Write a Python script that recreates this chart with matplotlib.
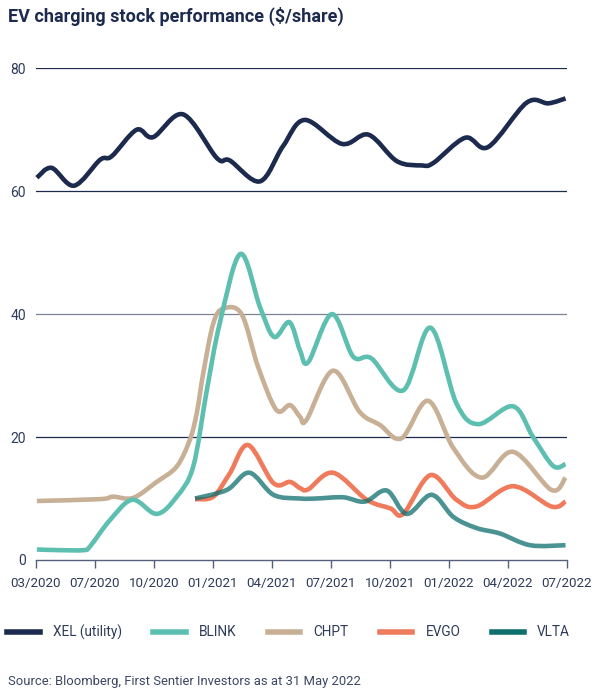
import numpy as np
import matplotlib
matplotlib.use("Agg")
import matplotlib.pyplot as plt
from matplotlib.path import Path
from matplotlib.patches import PathPatch
from matplotlib.lines import Line2D

plt.rcParams['font.family'] = ['Roboto', 'DejaVu Sans']

# x positions are in tick units (0 = 03/2020 ... 9 = 07/2022), values in $/share
tick_labels = ["03/2020", "07/2020", "10/2020", "01/2021", "04/2021",
               "07/2021", "10/2021", "01/2022", "04/2022", "07/2022"]

xel_x = [0.02, 0.27, 0.65, 1.09, 1.29, 1.71, 1.99, 2.50, 3.07, 3.29, 3.80, 4.19,
         4.56, 5.19, 5.64, 6.12, 6.54, 6.74, 7.28, 7.67, 8.32, 8.69, 8.98]
xel_y = [62.2, 63.8, 60.9, 65.1, 65.7, 70.0, 68.8, 72.5, 65.4, 65.0, 61.6, 67.3,
         71.6, 67.7, 69.2, 64.9, 64.2, 64.6, 68.7, 67.2, 74.4, 74.3, 75.1]

blink_x = [0.02, 0.41, 0.81, 0.92, 1.26, 1.64, 2.05, 2.39, 2.67, 2.90, 3.12, 3.47,
           3.80, 4.04, 4.30, 4.48, 4.62, 5.02, 5.38, 5.69, 6.23, 6.69, 7.13, 7.50,
           8.09, 8.43, 8.77, 8.98]
blink_y = [1.7, 1.6, 1.6, 2.2, 6.5, 9.8, 7.5, 10.3, 15.2, 27.6, 38.5, 49.8,
           41.2, 36.3, 38.7, 34.1, 32.2, 40.0, 33.1, 32.8, 27.6, 37.8, 25.5, 22.1,
           25.0, 20.0, 15.3, 15.6]

chpt_x = [0.02, 1.09, 1.31, 1.65, 2.05, 2.39, 2.61, 2.73, 2.84, 3.01, 3.18, 3.49,
          3.77, 4.08, 4.31, 4.48, 4.59, 5.04, 5.49, 5.83, 6.20, 6.65, 7.08, 7.56,
          8.09, 8.74, 8.98]
chpt_y = [9.6, 9.9, 10.3, 10.1, 12.7, 15.2, 19.5, 23.9, 30.4, 38.5, 40.9, 40.0,
          31.4, 24.4, 25.2, 23.3, 22.8, 30.8, 24.1, 22.0, 19.8, 25.9, 18.2, 13.4,
          17.6, 11.4, 13.4]

evgo_x = [2.70, 3.01, 3.29, 3.60, 4.03, 4.31, 4.48, 4.62, 5.04, 5.61, 6.01, 6.23,
          6.69, 7.13, 7.47, 8.09, 8.74, 8.98]
evgo_y = [9.9, 10.3, 14.1, 18.7, 12.5, 12.7, 11.7, 11.5, 14.2, 9.8, 8.4, 7.5,
          13.8, 9.8, 8.7, 12.0, 8.7, 9.5]

vlta_x = [2.70, 3.24, 3.62, 4.03, 4.48, 4.76, 5.21, 5.58, 5.95, 6.29, 6.71, 7.08,
          7.47, 7.87, 8.38, 8.98]
vlta_y = [10.0, 11.4, 14.2, 10.6, 10.0, 10.0, 10.2, 9.5, 11.3, 7.5, 10.6, 7.0,
          5.2, 4.3, 2.4, 2.4]

NAVY = "#1c2a4d"
TEXT = "#2d3b5a"


def smooth_path(xs, ys):
    # catmull-rom through the points, drawn as cubic bezier segments
    p = np.column_stack([xs, ys]).astype(float)
    p = np.vstack([p[0], p, p[-1]])
    verts = [p[1]]
    codes = [Path.MOVETO]
    for i in range(1, len(p) - 2):
        c1 = p[i] + (p[i + 1] - p[i - 1]) / 6
        c2 = p[i + 1] - (p[i + 2] - p[i]) / 6
        verts += [c1, c2, p[i + 1]]
        codes += [Path.CURVE4] * 3
    return Path(verts, codes)


fig = plt.figure(figsize=(6, 6.97), dpi=100)
ax = fig.add_axes([0.0595, 0.1966, 0.885, 0.7054])

series = [
    (xel_x, xel_y, NAVY, 1.0),
    (chpt_x, chpt_y, "#c8b096", 1.0),
    (blink_x, blink_y, "#5cbfb0", 1.0),
    (evgo_x, evgo_y, "#ef7a5c", 1.0),
    (vlta_x, vlta_y, "#0f6e6e", 0.75),
]
for xs, ys, col, a in series:
    patch = PathPatch(smooth_path(xs, ys), facecolor="none", edgecolor=col,
                      lw=3.3, alpha=a, capstyle="butt", joinstyle="round",
                      clip_on=False, zorder=3)
    ax.add_patch(patch)

ax.set_xlim(0, 9)
ax.set_ylim(0, 80)
ax.set_xticks(range(len(tick_labels)))
ax.set_xticklabels(tick_labels)
ax.set_yticks([0, 20, 40, 60, 80])

for sp in ["top", "right", "left"]:
    ax.spines[sp].set_visible(False)
ax.spines["bottom"].set_color("#55607a")
ax.spines["bottom"].set_linewidth(1.0)

ax.tick_params(axis="x", colors="#55607a", length=6, width=1.0, pad=6,
               labelcolor=TEXT, labelsize=9.6)
ax.tick_params(axis="y", length=0, pad=7, labelcolor=TEXT, labelsize=10)

for v in [20, 40, 60, 80]:
    ax.axhline(v, color="#7a8294" if v == 40 else NAVY, lw=0.9, zorder=1)

fig.text(0.013, 0.977, "EV charging stock performance ($/share)", fontsize=13,
         fontweight="bold", color=NAVY, va="center", ha="left")

handles = [Line2D([], [], color=c, lw=4) for c in
           [NAVY, "#5cbfb0", "#c8b096", "#ef7a5c", "#0f6e6e"]]
names = ["XEL (utility)", "BLINK", "CHPT", "EVGO", "VLTA"]
fig.legend(handles, names, loc="center left", bbox_to_anchor=(0.012, 1 - 632 / 697),
           ncol=5, frameon=False, fontsize=9.8, handlelength=2.4,
           handletextpad=0.95, columnspacing=2.3, borderpad=0, borderaxespad=0,
           labelcolor=TEXT)

fig.text(0.013, 1 - 681 / 697, "Source: Bloomberg, First Sentier Investors as at 31 May 2022",
         fontsize=9.4, color="#3b4763", va="center", ha="left")

fig.savefig("out.png", dpi=100)
